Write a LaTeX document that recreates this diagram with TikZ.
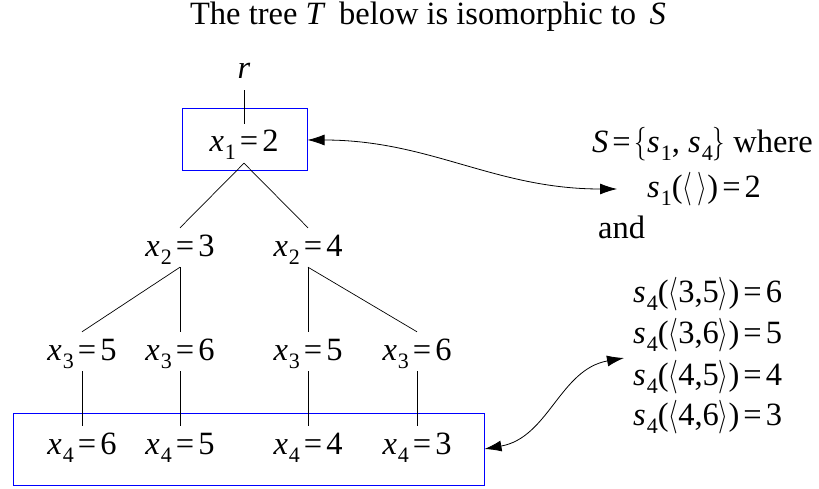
\documentclass[tikz,border=0pt]{standalone}
\usepackage{fontspec}
\setmainfont{Liberation Serif}
\usetikzlibrary{arrows.meta}
\newcommand\vx[2]{\textit{#1}\kern1pt\raisebox{-8pt}{\fontsize{22}{23}\selectfont#2}}
\newcommand\eq{\kern4pt=\kern4pt}
\newcommand\tall[1]{\scalebox{1}[1.35]{$#1$}}

\begin{document}
\begin{tikzpicture}[x=1pt,y=-1pt,font=\fontsize{32.5}{38}\selectfont,
  lbl/.style={text height=20pt,text depth=3pt,inner ysep=8pt,inner xsep=0pt,anchor=base},
  bluebox/.style={draw=blue,line width=1pt,inner sep=0pt},
  txt/.style={inner sep=0pt,anchor=base west},
  link/.style={line width=0.7pt},
  both/.style={{Latex[length=17pt,width=11pt]}-{Latex[length=17pt,width=11pt]},line width=0.8pt}]
  \useasboundingbox (0,0) rectangle (819,489);
  \node[inner sep=0pt,anchor=base] (title) at (428,25) {The tree \textit{T}\, below is isomorphic to \,\textit{S}};
  % tree
  \node[lbl] (r) at (244,79) {\textit{r}};
  \node[bluebox,minimum width=125pt,minimum height=62pt] (topbox) at (244.5,140) {};
  \node[lbl] (x1) at (244,152) {\vx{x}{1}\eq2};
  \node[lbl] (x2a) at (180,256) {\vx{x}{2}\eq3};
  \node[lbl] (x2b) at (308,256) {\vx{x}{2}\eq4};
  \node[lbl] (x3a) at (82,360) {\vx{x}{3}\eq5};
  \node[lbl] (x3b) at (180,360) {\vx{x}{3}\eq6};
  \node[lbl] (x3c) at (308,360) {\vx{x}{3}\eq5};
  \node[lbl] (x3d) at (417,360) {\vx{x}{3}\eq6};
  \node[bluebox,minimum width=471pt,minimum height=72pt] (botbox) at (248.5,449) {};
  \node[lbl] (x4a) at (82,454) {\vx{x}{4}\eq6};
  \node[lbl] (x4b) at (180,454) {\vx{x}{4}\eq5};
  \node[lbl] (x4c) at (308,454) {\vx{x}{4}\eq4};
  \node[lbl] (x4d) at (417,454) {\vx{x}{4}\eq3};
  \draw[link] (r.south) -- (x1.north);
  \draw[link] (x1.south) -- (x2a.north);
  \draw[link] (x1.south) -- (x2b.north);
  \draw[link] (x2a.south) -- (x3a.north);
  \draw[link] (x2a.south) -- (x3b.north);
  \draw[link] (x2b.south) -- (x3c.north);
  \draw[link] (x2b.south) -- (x3d.north);
  \foreach \n in {a,b,c,d}
    \draw[link] (x3\n.south) -- (x4\n.north);
  % the set S
  \node[txt] (sdef) at (592,153) {\textit{S}\eq\tall{\{}\vx{s}{1}, \vx{s}{4}\tall{\}} where};
  \node[txt] (s1) at (647,198) {\vx{s}{1}(\tall{\langle}\,\tall{\rangle})\eq2};
  \node[txt] (and) at (598,238) {and};
  \node[txt] (s4a) at (633,302) {\vx{s}{4}(\tall{\langle}3,5\tall{\rangle})\eq6};
  \node[txt] (s4b) at (633,343) {\vx{s}{4}(\tall{\langle}3,6\tall{\rangle})\eq5};
  \node[txt] (s4c) at (633,385) {\vx{s}{4}(\tall{\langle}4,5\tall{\rangle})\eq4};
  \node[txt] (s4d) at (633,425) {\vx{s}{4}(\tall{\langle}4,6\tall{\rangle})\eq3};
  \coordinate (s1tip) at (617,189);
  \coordinate (s4tip) at (624,358);
  \draw[both] (topbox.east) to[out=0,in=180] (s1tip);
  \draw[both] (botbox.east) to[out=10,in=190] (s4tip);
\end{tikzpicture}
\end{document}
